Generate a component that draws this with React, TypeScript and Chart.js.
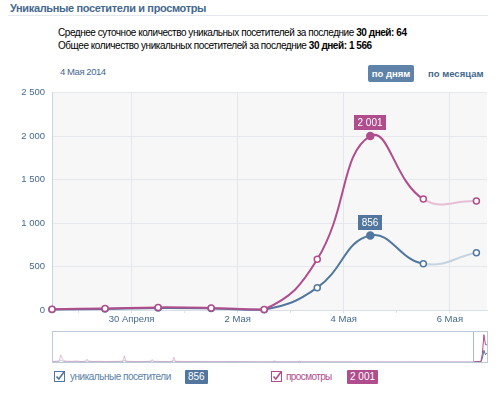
import React, { useEffect, useRef } from 'react';
import { Chart, registerables } from 'chart.js';

Chart.register(...registerables);

// ---- data ----
const days = ['28 Апреля', '29 Апреля', '30 Апреля', '1 Мая', '2 Мая', '3 Мая', '4 Мая', '5 Мая', '6 Мая'];
const uniqueVisitors = [5, 12, 22, 18, 4, 257, 856, 533, 658];
const pageViews = [10, 18, 30, 24, 6, 583, 2001, 1276, 1253];
const yTicks = [0, 500, 1000, 1500, 2000, 2500];
const xTickPositions = [0.5, 1.5, 2.5, 3.5, 4.5, 5.5, 6.5, 7.5];
const xTickLabels = ['', '30 Апреля', '', '2 Мая', '', '4 Мая', '', '6 Мая'];
const highlightIndex = 6;
const selectedDateLabel = '4 Мая 2014';
const periodDays = 30;
const avgDaily = 64;
const totalUnique = 1566;

// navigator (overview) data: day offsets and values
const navDays = [0, 2, 4, 5, 6, 7, 9, 12, 15, 18, 21, 22, 23, 26, 30, 34, 38, 42, 45, 46, 47, 50, 55, 60, 63, 64, 65, 70, 75, 77, 78, 79, 85, 95, 105, 115, 125, 135, 142, 143, 144, 150, 158, 159, 160, 170, 190, 210, 230, 250, 271];
const navViews = [40, 60, 80, 500, 250, 90, 60, 50, 70, 40, 60, 200, 60, 40, 50, 30, 40, 50, 60, 450, 70, 40, 30, 40, 60, 180, 50, 40, 30, 60, 350, 50, 40, 30, 20, 30, 20, 10, 20, 100, 20, 10, 20, 80, 10, 10, 5, 5, 5, 5, 5];
const navUnique = [20, 25, 30, 150, 90, 35, 25, 20, 30, 20, 25, 70, 25, 20, 20, 15, 20, 20, 25, 140, 30, 20, 15, 20, 25, 70, 20, 15, 15, 25, 110, 20, 15, 15, 10, 15, 10, 5, 10, 40, 10, 5, 10, 30, 5, 5, 3, 3, 3, 3, 3];
const navFirstMainDay = 272;
const navLastDay = 280;

// ---- styles ----
const BLUE = '#52779f';
const BLUE_FADED = '#c5d3e1';
const PINK = '#b04d8c';
const PINK_FADED = '#e6bfd7';
const TEXT_BLUE = '#45688e';
const FONT = '"Liberation Sans", Arial, sans-serif';

const fmt = (n: number) => String(Math.round(n)).replace(/\B(?=(\d{3})+(?!\d))/g, ' ');

const bgPlugin = {
  id: 'plotBg',
  beforeDraw(chart: any) {
    const { ctx, chartArea } = chart;
    ctx.save();
    ctx.fillStyle = '#f7f7f7';
    ctx.fillRect(chartArea.left, chartArea.top, chartArea.right - chartArea.left, chartArea.bottom - chartArea.top);
    ctx.restore();
  },
};

const tipPlugin = {
  id: 'valueTips',
  afterDraw(chart: any) {
    const { ctx } = chart;
    chart.data.datasets.forEach((ds: any, di: number) => {
      const meta = chart.getDatasetMeta(di);
      const el = meta.data[highlightIndex];
      if (!el) return;
      const text = fmt(ds.data[highlightIndex].y);
      ctx.save();
      ctx.font = `10px ${FONT}`;
      const w = Math.round(ctx.measureText(text).width + 7);
      const h = 15;
      const x = Math.round(el.x - w / 2);
      const y = Math.round(el.y - 6 - h);
      ctx.fillStyle = ds.borderColor;
      ctx.fillRect(x, y, w, h);
      ctx.fillStyle = '#ffffff';
      ctx.textAlign = 'center';
      ctx.textBaseline = 'middle';
      ctx.fillText(text, x + w / 2, y + h / 2 + 0.5);
      ctx.restore();
    });
  },
};

const windowPlugin = {
  id: 'navWindow',
  afterDraw(chart: any) {
    const { ctx, chartArea, scales } = chart;
    const x0 = Math.round(scales.x.getPixelForValue(navFirstMainDay - 1)) + 0.5;
    ctx.save();
    ctx.strokeStyle = '#a9b9ca';
    ctx.lineWidth = 1;
    ctx.beginPath();
    ctx.moveTo(x0, chartArea.top);
    ctx.lineTo(x0, chartArea.bottom);
    ctx.stroke();
    ctx.restore();
  },
};

function MainChart() {
  const ref = useRef<HTMLCanvasElement>(null);
  useEffect(() => {
    if (!ref.current) return;
    const isLabelled = (v: number) => {
      const i = xTickPositions.indexOf(v);
      return i >= 0 && xTickLabels[i] !== '';
    };
    const mk = (label: string, values: number[], color: string, faded: string) => ({
      label,
      data: values.map((v, i) => ({ x: i, y: v })),
      borderColor: color,
      borderWidth: 2,
      tension: 0.45,
      clip: false,
      pointRadius: (c: any) => (c.dataIndex === highlightIndex ? 3.5 : 3),
      pointBackgroundColor: (c: any) => (c.dataIndex === highlightIndex ? color : '#ffffff'),
      pointBorderColor: color,
      pointBorderWidth: 1.5,
      segment: {
        borderColor: (c: any) => (c.p0DataIndex === values.length - 2 ? faded : undefined),
      },
    });
    const chart = new Chart(ref.current, {
      type: 'line',
      data: {
        labels: days,
        datasets: [
          mk('просмотры', pageViews, PINK, PINK_FADED),
          mk('уникальные посетители', uniqueVisitors, BLUE, BLUE_FADED),
        ],
      },
      options: {
        responsive: false,
        animation: false,
        layout: { padding: { left: 0, top: 9, right: 13, bottom: 0 } },
        plugins: { legend: { display: false }, tooltip: { enabled: false } },
        scales: {
          x: {
            type: 'linear',
            min: 0,
            max: 8.2,
            afterBuildTicks: (s: any) => {
              s.ticks = xTickPositions.map((v) => ({ value: v }));
            },
            afterFit: (s: any) => {
              s.height = 20;
            },
            ticks: {
              autoSkip: false,
              maxRotation: 0,
              padding: 1,
              color: TEXT_BLUE,
              font: { family: FONT, size: 9.5 },
              callback: (v: any) => {
                const i = xTickPositions.indexOf(Number(v));
                return i >= 0 ? xTickLabels[i] : '';
              },
            },
            grid: {
              color: (c: any) => (c.tick && isLabelled(c.tick.value) ? '#e3e7ec' : 'rgba(0,0,0,0)'),
              tickColor: '#dbe2ea',
              tickLength: 3,
            },
            border: { color: '#d9e0e8' },
          },
          y: {
            min: 0,
            max: 2500,
            afterBuildTicks: (s: any) => {
              s.ticks = yTicks.map((v) => ({ value: v }));
            },
            afterFit: (s: any) => {
              s.width = 52;
            },
            ticks: {
              padding: 7,
              color: TEXT_BLUE,
              font: { family: FONT, size: 9.5 },
              callback: (v: any) => fmt(Number(v)),
            },
            grid: { color: '#e5e8ec', drawTicks: false },
            border: { color: '#c9d4e0' },
          },
        },
      } as any,
      plugins: [bgPlugin, tipPlugin],
    });
    return () => chart.destroy();
  }, []);
  return <canvas ref={ref} width={500} height={250} style={{ position: 'absolute', left: 0, top: 80 }} />;
}

function NavChart() {
  const ref = useRef<HTMLCanvasElement>(null);
  useEffect(() => {
    if (!ref.current) return;
    const mainDays = days.map((_, i) => navFirstMainDay + i);
    const mkData = (nav: number[], main: number[]) => [
      ...navDays.map((d, i) => ({ x: d, y: nav[i] })),
      ...mainDays.map((d, i) => ({ x: d, y: main[i] })),
    ];
    const mk = (values: any[], color: string, faded: string) => ({
      data: values,
      borderColor: faded,
      borderWidth: 1,
      pointRadius: 0,
      tension: 0,
      segment: {
        borderColor: (c: any) => (c.p0.parsed.x >= navFirstMainDay - 1 ? color : undefined),
      },
    });
    const chart = new Chart(ref.current, {
      type: 'line',
      data: {
        datasets: [
          mk(mkData(navViews, pageViews), PINK, 'rgba(176,77,140,0.35)'),
          mk(mkData(navUnique, uniqueVisitors), BLUE, 'rgba(82,119,159,0.35)'),
        ],
      },
      options: {
        responsive: false,
        animation: false,
        layout: { padding: 0 },
        plugins: { legend: { display: false }, tooltip: { enabled: false } },
        scales: {
          x: { type: 'linear', min: 0, max: navLastDay, display: false },
          y: { min: 0, max: 2200, display: false },
        },
      } as any,
      plugins: [windowPlugin],
    });
    return () => chart.destroy();
  }, []);
  return <canvas ref={ref} width={434} height={30} style={{ position: 'absolute', left: 0, top: 0 }} />;
}

function Check({ color }: { color: string }) {
  return (
    <svg width={11} height={11} style={{ position: 'absolute', left: 0, top: 0 }}>
      <rect x={0.5} y={0.5} width={10} height={10} fill="#fff" stroke={color} strokeWidth={1} />
      <polyline points="2.5,5.5 4.8,8 10,1" fill="none" stroke={color} strokeWidth={1.6} />
    </svg>
  );
}

const abs = (left: number, top: number, extra: any = {}) => ({
  position: 'absolute' as const,
  left,
  top,
  whiteSpace: 'nowrap' as const,
  fontFamily: FONT,
  ...extra,
});

export default function App() {
  return (
    <div style={{ position: 'fixed', left: 0, top: 0, width: 500, height: 398, background: '#fff', overflow: 'hidden' }}>
      <div style={abs(10, 1, { fontSize: 11, fontWeight: 'bold', color: TEXT_BLUE, lineHeight: '14px', letterSpacing: '-0.36px' })}>
        Уникальные посетители и просмотры
      </div>
      <div style={abs(8, 15, { width: 480, height: 1, background: '#e3e8ee' })} />
      <div style={abs(58, 26, { fontSize: 10, color: '#000', lineHeight: '14px', letterSpacing: '-0.45px' })}>
        Среднее суточное количество уникальных посетителей за последние <b>{periodDays} дней:</b> <b>{avgDaily}</b>
      </div>
      <div style={abs(58, 39, { fontSize: 10, color: '#000', lineHeight: '14px', letterSpacing: '-0.45px' })}>
        Общее количество уникальных посетителей за последние <b>{periodDays} дней:</b> <b>{fmt(totalUnique)}</b>
      </div>
      <div style={abs(60, 65, { fontSize: 9.5, color: TEXT_BLUE, lineHeight: '14px', letterSpacing: '-0.45px' })}>{selectedDateLabel}</div>
      <div
        style={abs(368, 65, {
          width: 46,
          height: 17,
          background: '#5e82a8',
          borderRadius: 2,
          color: '#fff',
          fontSize: 9.5,
          fontWeight: 'bold',
          lineHeight: '17px',
          textAlign: 'center',
        })}
      >
        по дням
      </div>
      <div style={abs(428, 66, { fontSize: 9.5, fontWeight: 'bold', color: TEXT_BLUE, lineHeight: '15px' })}>по месяцам</div>

      <MainChart />

      <div style={abs(52, 331, { width: 436, height: 32, boxSizing: 'border-box', border: '1px solid #bccad8' })}>
        <div style={{ position: 'absolute', left: 0, top: 0, width: 434, height: 30 }}>
          <NavChart />
        </div>
      </div>

      <div style={abs(54, 371, { width: 11, height: 11 })}>
        <Check color={BLUE} />
      </div>
      <div style={abs(70, 370, { fontSize: 10, color: '#5b7fa6', lineHeight: '13px', letterSpacing: '-0.48px' })}>уникальные посетители</div>
      <div
        style={abs(185, 370, {
          background: BLUE,
          color: '#fff',
          fontSize: 10,
          lineHeight: '14px',
          height: 14,
          padding: '0 3px',
          borderRadius: 1,
        })}
      >
        {fmt(uniqueVisitors[highlightIndex])}
      </div>
      <div style={abs(271, 371, { width: 11, height: 11 })}>
        <Check color={PINK} />
      </div>
      <div style={abs(286, 370, { fontSize: 10, color: PINK, lineHeight: '13px', letterSpacing: '-0.6px' })}>просмотры</div>
      <div
        style={abs(347, 370, {
          background: PINK,
          color: '#fff',
          fontSize: 10,
          lineHeight: '14px',
          height: 14,
          padding: '0 3px',
          borderRadius: 1,
        })}
      >
        {fmt(pageViews[highlightIndex])}
      </div>
    </div>
  );
}
